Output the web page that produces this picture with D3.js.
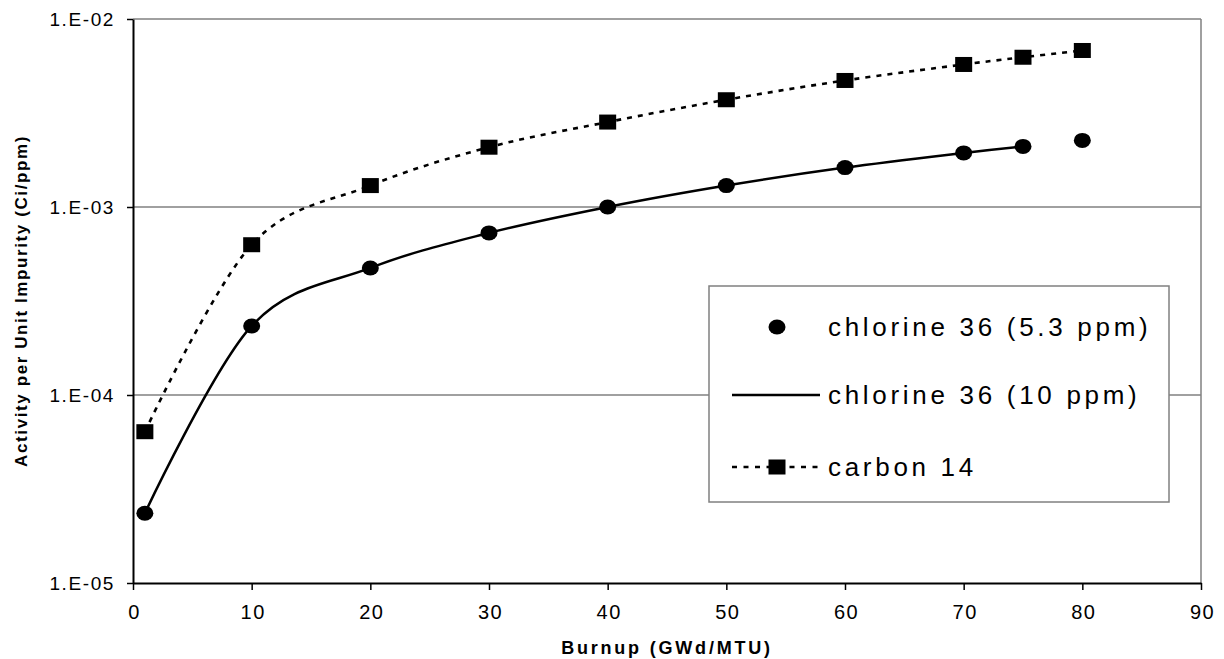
<!DOCTYPE html>
<html>
<head>
<meta charset="utf-8">
<script src="https://cdn.jsdelivr.net/npm/d3@7"></script>
<style>
  body { margin: 0; background: #fff; }
  text { font-family: "Liberation Sans", Arial, sans-serif; fill: #000; }
</style>
</head>
<body>
<div id="chart"></div>
<script>
// values
var burnup = [1, 10, 20, 30, 40, 50, 60, 70, 75, 80];
var chlorine53 = [2.35e-5, 2.33e-4, 4.74e-4, 7.28e-4, 1.0e-3, 1.30e-3, 1.62e-3, 1.94e-3, 2.10e-3, 2.26e-3];
var burnup10 = [1, 10, 20, 30, 40, 50, 60, 70, 75];
var chlorine10 = [2.35e-5, 2.33e-4, 4.74e-4, 7.28e-4, 1.0e-3, 1.30e-3, 1.62e-3, 1.94e-3, 2.10e-3];
var carbon14 = [6.38e-5, 6.3e-4, 1.30e-3, 2.08e-3, 2.83e-3, 3.72e-3, 4.71e-3, 5.73e-3, 6.26e-3, 6.80e-3];

var xTicks = [0, 10, 20, 30, 40, 50, 60, 70, 80, 90];
var yTicks = [1e-5, 1e-4, 1e-3, 1e-2];
var yTickLabels = ["1.E-05", "1.E-04", "1.E-03", "1.E-02"];
var legendNames = ["chlorine 36 (5.3 ppm)", "chlorine 36 (10 ppm)", "carbon 14"];

var width = 1224;
var height = 659;
var plotLeft = 133, plotTop = 19, plotRight = 1201, plotBottom = 583;

var xScale = d3.scaleLinear().domain([0, 90]).range([plotLeft, plotRight]);
var yScale = d3.scaleLog().domain([1e-5, 1e-2]).range([plotBottom, plotTop]);

var svg = d3.select("#chart").append("svg")
  .attr("width", width)
  .attr("height", height);

// grid lines + plot frame (grey)
svg.append("g")
  .selectAll("line")
  .data(yTicks.slice(1))
  .enter().append("line")
  .attr("x1", plotLeft).attr("x2", plotRight)
  .attr("y1", d => yScale(d)).attr("y2", d => yScale(d))
  .attr("stroke", "#808080")
  .attr("stroke-width", 1.5);

svg.append("line")
  .attr("x1", plotRight).attr("x2", plotRight)
  .attr("y1", plotTop).attr("y2", plotBottom)
  .attr("stroke", "#808080")
  .attr("stroke-width", 1.5);

// axes
var xAxis = d3.axisBottom(xScale).tickValues(xTicks).tickSize(7).tickSizeOuter(0).tickFormat(d3.format("d"));
var yAxis = d3.axisLeft(yScale).tickValues(yTicks).tickSize(6).tickSizeOuter(0)
  .tickFormat((d, i) => yTickLabels[i]);

var gx = svg.append("g")
  .attr("transform", `translate(0, ${plotBottom})`)
  .call(xAxis);
gx.select(".domain").attr("stroke", "#000").attr("stroke-width", 2);
gx.selectAll(".tick line").attr("stroke", "#000").attr("stroke-width", 1.5);
gx.selectAll(".tick text")
  .attr("y", 0)
  .attr("dy", 0)
  .attr("transform", "translate(1, 36)")
  .style("font-size", "20px")
  .style("letter-spacing", "1.5px")
  .style("font-family", "Liberation Sans, Arial, sans-serif")
  .attr("fill", "#000");

var gy = svg.append("g")
  .attr("transform", `translate(${plotLeft}, 0)`)
  .call(yAxis);
gy.select(".domain").attr("stroke", "#000").attr("stroke-width", 2);
gy.selectAll(".tick line").attr("stroke", "#000").attr("stroke-width", 1.5);
gy.selectAll(".tick text")
  .attr("x", -18)
  .attr("dy", "0.35em")
  .style("font-size", "19px")
  .style("letter-spacing", "1.6px")
  .style("font-family", "Liberation Sans, Arial, sans-serif")
  .attr("fill", "#000");

// axis titles
svg.append("text")
  .attr("x", (plotLeft + plotRight) / 2)
  .attr("y", 654)
  .attr("text-anchor", "middle")
  .style("font-size", "18px")
  .style("font-weight", "bold")
  .style("letter-spacing", "2.8px")
  .text("Burnup (GWd/MTU)");

svg.append("text")
  .attr("transform", `translate(27, ${(plotTop + plotBottom) / 2}) rotate(-90)`)
  .attr("text-anchor", "middle")
  .style("font-size", "17px")
  .style("font-weight", "bold")
  .style("letter-spacing", "1.6px")
  .text("Activity per Unit Impurity (Ci/ppm)");

// lines
var line = d3.line()
  .x(d => xScale(d[0]))
  .y(d => yScale(d[1]))
  .curve(d3.curveCardinal.tension(0));

svg.append("path")
  .datum(d3.zip(burnup, carbon14))
  .attr("d", line)
  .attr("fill", "none")
  .attr("stroke", "#000")
  .attr("stroke-width", 2.6)
  .attr("stroke-dasharray", "5,6");

svg.append("path")
  .datum(d3.zip(burnup10, chlorine10))
  .attr("d", line)
  .attr("fill", "none")
  .attr("stroke", "#000")
  .attr("stroke-width", 2.5);

// markers
svg.append("g")
  .selectAll("rect")
  .data(d3.zip(burnup, carbon14))
  .enter().append("rect")
  .attr("x", d => xScale(d[0]) - 8.5)
  .attr("y", d => yScale(d[1]) - 7.5)
  .attr("width", 17)
  .attr("height", 15)
  .attr("fill", "#000");

svg.append("g")
  .selectAll("ellipse")
  .data(d3.zip(burnup, chlorine53))
  .enter().append("ellipse")
  .attr("cx", d => xScale(d[0]))
  .attr("cy", d => yScale(d[1]))
  .attr("rx", 8.5)
  .attr("ry", 7.5)
  .attr("fill", "#000");

// legend
var legend = svg.append("g").attr("transform", "translate(709, 286)");
legend.append("rect")
  .attr("width", 460)
  .attr("height", 216)
  .attr("fill", "#fff")
  .attr("stroke", "#808080")
  .attr("stroke-width", 1.5);

var rowY = [41, 109, 181];
legend.append("ellipse")
  .attr("cx", 68).attr("cy", rowY[0])
  .attr("rx", 8.5).attr("ry", 7.5)
  .attr("fill", "#000");
legend.append("line")
  .attr("x1", 23).attr("x2", 111)
  .attr("y1", rowY[1]).attr("y2", rowY[1])
  .attr("stroke", "#000").attr("stroke-width", 2.5);
legend.append("line")
  .attr("x1", 23).attr("x2", 111)
  .attr("y1", rowY[2]).attr("y2", rowY[2])
  .attr("stroke", "#000").attr("stroke-width", 2.6)
  .attr("stroke-dasharray", "5,6.5");
legend.append("rect")
  .attr("x", 68 - 8.5).attr("y", rowY[2] - 7.5)
  .attr("width", 17).attr("height", 15)
  .attr("fill", "#000");

legend.selectAll("text.item")
  .data(legendNames)
  .enter().append("text")
  .attr("class", "item")
  .attr("x", 119)
  .attr("y", (d, i) => rowY[i])
  .attr("dy", "0.35em")
  .style("font-size", "26px")
  .style("letter-spacing", "3.7px")
  .text(d => d);
</script>
</body>
</html>
